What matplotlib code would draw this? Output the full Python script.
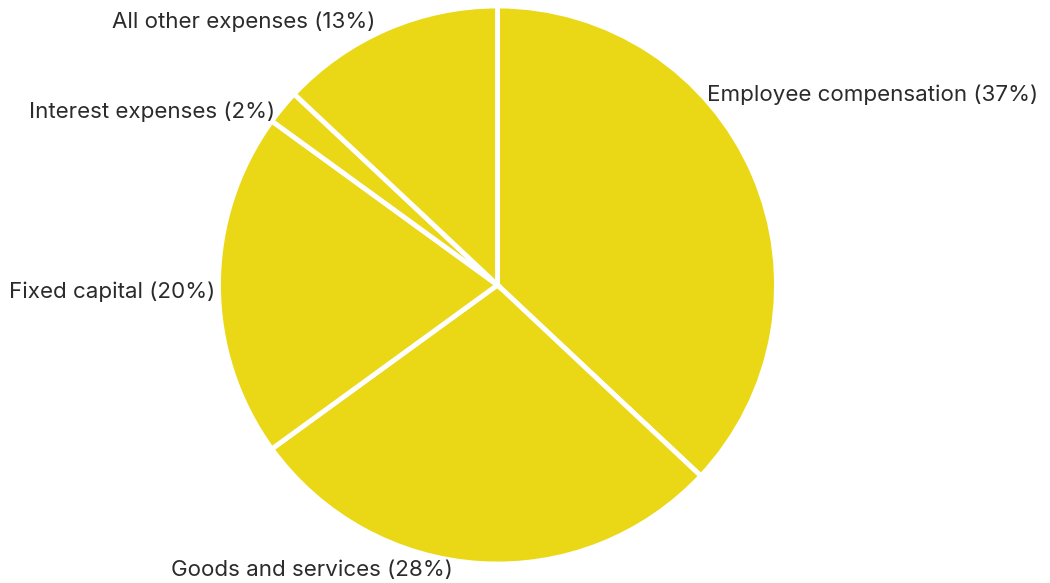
import numpy as np
import matplotlib.pyplot as plt

plt.rcParams["font.family"] = ["Inter", "DejaVu Sans"]

categories = [
    "Employee compensation",
    "Goods and services",
    "Fixed capital",
    "Interest expenses",
    "All other expenses",
]
shares = [37, 28, 20, 2, 13]

# label anchor points in pie-radius units and their alignment
label_xy = [(0.758, 0.686), (-0.671, -1.029), (-1.018, -0.025), (-0.801, 0.625), (-0.440, 0.949)]
label_ha = ["left", "center", "right", "right", "right"]

W, H = 1050, 583
R = 279.0
cx, cy = 497.5, 298.0  # pie centre in pixels from bottom-left

fig = plt.figure(figsize=(W / 100, H / 100), dpi=100)
ax = fig.add_axes([0, 0, 1, 1])

ax.pie(
    shares,
    startangle=90,
    counterclock=False,
    colors=["#EAD817"] * len(shares),
    wedgeprops=dict(edgecolor="white", linewidth=3.5),
)

for name, val, (x, y), ha in zip(categories, shares, label_xy, label_ha):
    ax.text(x * 277 / R, y * 277 / R, f"{name} ({val}%)", ha=ha, va="center",
            fontsize=16.1, color="#2b2b2b")

ax.set_xlim(-cx / R, (W - cx) / R)
ax.set_ylim(-cy / R, (H - cy) / R)
ax.set_aspect("equal", adjustable="datalim")
ax.axis("off")

fig.savefig("out.png", dpi=100)
